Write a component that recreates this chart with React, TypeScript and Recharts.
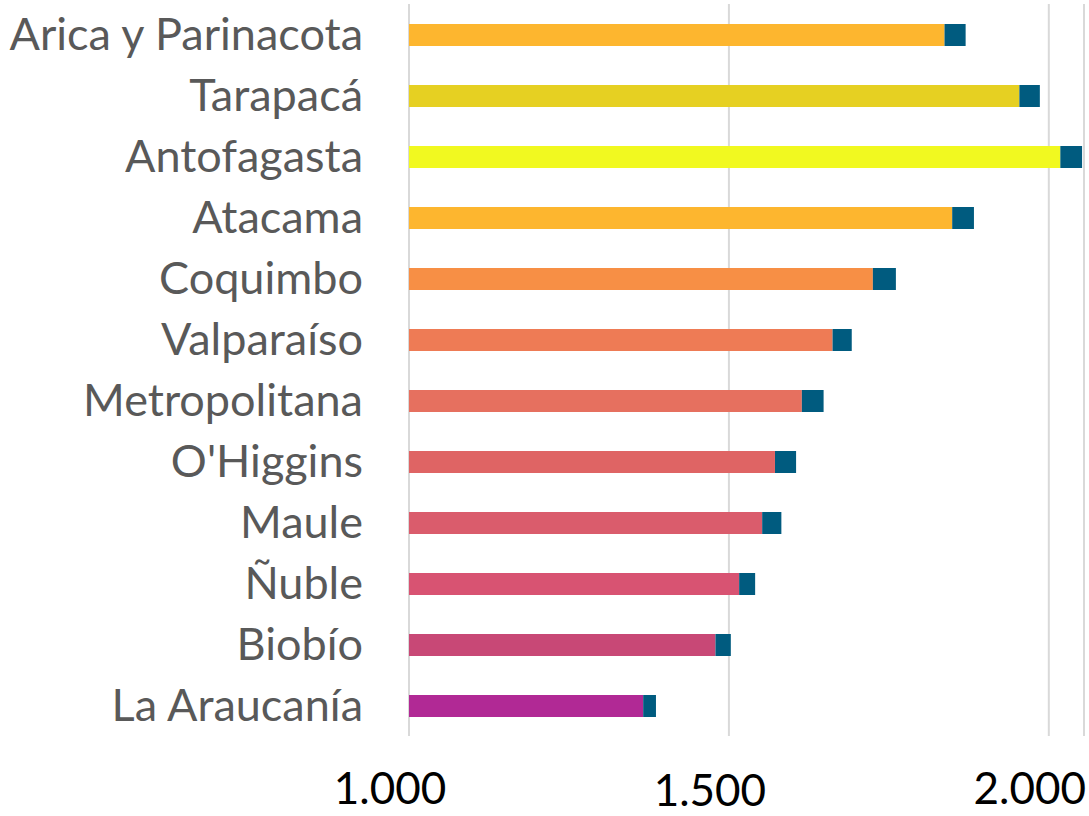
import React from 'react';
import { BarChart, Bar, Cell, XAxis, YAxis, CartesianGrid } from 'recharts';

const categories = [
  'Arica y Parinacota', 'Tarapacá', 'Antofagasta', 'Atacama', 'Coquimbo', 'Valparaíso',
  'Metropolitana', "O'Higgins", 'Maule', 'Ñuble', 'Biobío', 'La Araucanía',
];
const baseValues = [1837, 1954, 2018, 1849, 1725, 1662, 1614, 1572, 1552, 1516, 1479, 1366];
const totalValues = [1870, 1986, 2052, 1883, 1761, 1692, 1648, 1605, 1582, 1541, 1503, 1386];
const xTicks = [1000, 1500, 2000];
const xTickLabels = ['1.000', '1.500', '2.000'];

const barColors = [
  '#FDB62F', '#E6D022', '#F1F920', '#FDB62F', '#F78F45', '#EE7B55',
  '#E6705F', '#DF6464', '#DA5C6C', '#D85372', '#C84876', '#B12995',
];
const extraColor = '#005B7F';

const data = categories.map((name, i) => ({
  name,
  base: baseValues[i],
  extra: totalValues[i] - baseValues[i],
}));

const FONT = 'Lato, "Open Sans", sans-serif';

const YTick = (props: any) => {
  const { x, y, payload } = props;
  return (
    <text x={x - 38} y={y + 15} textAnchor="end" fill="#595959" fontSize={45} fontFamily={FONT}>
      {payload.value}
    </text>
  );
};

// the middle label sits a bit lower in the original
const XTick = (props: any) => {
  const { x, y, payload, index } = props;
  const i = xTicks.indexOf(payload.value);
  return (
    <text x={x - 19} y={y + 60 + (index === 1 ? 2 : 0)} textAnchor="middle" fill="#000" fontSize={44} fontFamily={FONT}>
      {xTickLabels[i]}
    </text>
  );
};

export default function App() {
  return (
    <div style={{ position: 'absolute', left: 0, top: 0, background: '#fff' }}>
      <BarChart
        width={1089}
        height={816}
        data={data}
        layout="vertical"
        margin={{ top: 4, right: 5, bottom: 0, left: 0 }}
        barSize={22}
      >
        <CartesianGrid horizontal={false} stroke="#d9d9d9" strokeWidth={2} />
        <XAxis
          type="number"
          domain={[1000, 2055]}
          allowDataOverflow
          ticks={xTicks}
          axisLine={false}
          tickLine={false}
          height={80}
          tick={<XTick />}
        />
        <YAxis
          type="category"
          dataKey="name"
          width={409}
          axisLine={false}
          tickLine={false}
          interval={0}
          tick={<YTick />}
        />
        <Bar dataKey="base" stackId="a" isAnimationActive={false}>
          {data.map((d, i) => (
            <Cell key={d.name} fill={barColors[i]} />
          ))}
        </Bar>
        <Bar dataKey="extra" stackId="a" fill={extraColor} isAnimationActive={false} />
      </BarChart>
    </div>
  );
}
